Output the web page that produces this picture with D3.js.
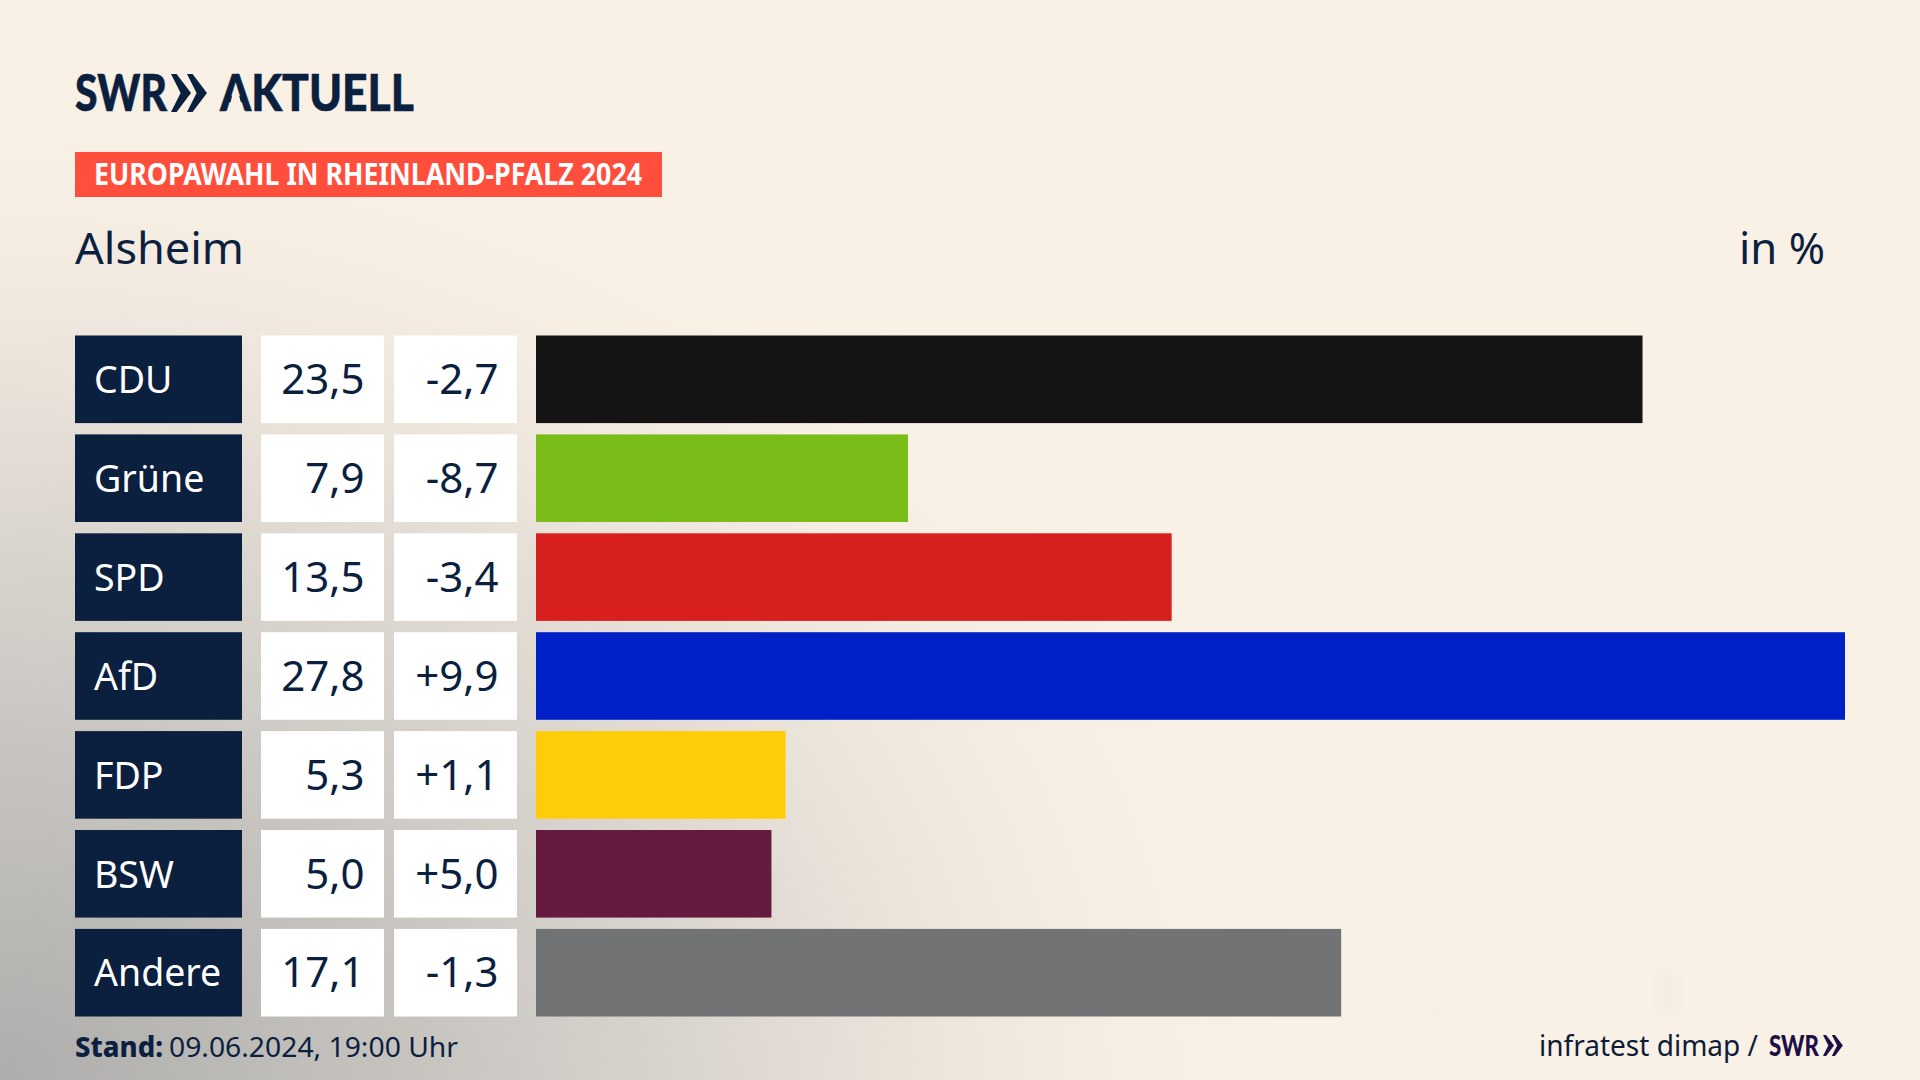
<!DOCTYPE html>
<html>
<head>
<meta charset="utf-8">
<script src="https://cdn.jsdelivr.net/npm/d3@7"></script>
<style>
  html, body { margin: 0; padding: 0; background: #faf1e6; }
  svg { display: block; }
  text { font-family: "Noto Sans", Lato, sans-serif; }
  .logo { font-family: Lato, "Noto Sans", sans-serif; }
</style>
</head>
<body>
<svg id="chart" width="1920" height="1080"></svg>
<script>
const parties = ['CDU', 'Grüne', 'SPD', 'AfD', 'FDP', 'BSW', 'Andere'];
const shares = [23.5, 7.9, 13.5, 27.8, 5.3, 5.0, 17.1];
const changes = [-2.7, -8.7, -3.4, 9.9, 1.1, 5.0, -1.3];
const partyColors = ['#141414', '#7abd19', '#d7201e', '#0021c7', '#ffcd07', '#661a3f', '#727375'];

const navy = '#0b1f3f';
const svg = d3.select('#chart');
const defs = svg.append('defs');

// Background: warm paper with a grey glow from the bottom left corner
const glow = defs.append('radialGradient')
  .attr('id', 'glow')
  .attr('gradientUnits', 'userSpaceOnUse')
  .attr('cx', 0).attr('cy', 0).attr('r', 1)
  .attr('gradientTransform', 'translate(0,1080) scale(1350,1050)');
[[0, '#aeadab', 1], [0.3, '#c6c3bf', 1], [0.6, '#e2dcd4', 1], [1, '#faf1e6', 0]].forEach(s => {
  glow.append('stop').attr('offset', s[0]).attr('stop-color', s[1]).attr('stop-opacity', s[2]);
});
defs.append('filter').attr('id', 'soft').append('feGaussianBlur').attr('stdDeviation', 8);
svg.append('rect').attr('width', 1920).attr('height', 1080).attr('fill', '#faf1e6');
svg.append('rect').attr('width', 1920).attr('height', 1080).attr('fill', 'url(#glow)');
// faint smudges near the bottom right
svg.append('ellipse').attr('cx', 1668).attr('cy', 993).attr('rx', 12).attr('ry', 22)
  .attr('fill', '#f4ebe1').attr('filter', 'url(#soft)');
svg.append('ellipse').attr('cx', 1432).attr('cy', 1015).attr('rx', 10).attr('ry', 10)
  .attr('fill', '#f6ede3').attr('filter', 'url(#soft)');

const fmt = v => v.toFixed(1).replace('.', ',');
const fmtChange = v => (v > 0 ? '+' : '') + fmt(v);

const x = d3.scaleLinear().domain([0, 27.8]).range([536, 1845]);
const y = d3.scaleBand().domain(parties).range([335.5, 1016.5]).paddingInner(0.1143);

// Chevrons of the SWR mark
function chevrons(g, px, py, h, color) {
  const w = h * 0.526;
  const d = `M0 0L${w * 0.28} 0L${w} ${h / 2}L${w * 0.28} ${h}L0 ${h}L${w * 0.48} ${h / 2}Z`;
  g.append('path').attr('d', d).attr('fill', color).attr('transform', `translate(${px},${py})`);
  g.append('path').attr('d', d).attr('fill', color).attr('transform', `translate(${px + w * 0.8},${py})`);
}

// Text squeezed to the width it has in the picture
function label(txt, px, py, size, width, opts = {}) {
  const t = svg.append('text')
    .attr('x', px).attr('y', py)
    .attr('font-size', size)
    .attr('font-weight', opts.weight || 400)
    .attr('fill', opts.fill || navy)
    .attr('text-anchor', opts.anchor || 'start')
    .text(txt);
  if (width) t.attr('textLength', width).attr('lengthAdjust', 'spacingAndGlyphs');
  return t;
}

// Header
label('SWR', 75, 111, 51, 92, { weight: 900 }).attr('class', 'logo').attr('stroke', navy).attr('stroke-width', 0.6);
chevrons(svg, 171, 74, 38, navy);
defs.append('clipPath').attr('id', 'noBar').append('path')
  .attr('clip-rule', 'evenodd')
  .attr('d', 'M210 60H430V125H210ZM233 92L238 92L244 113L228 113Z');
label('AKTUELL', 220, 111, 51, 194, { weight: 900 }).attr('class', 'logo')
  .attr('stroke', navy).attr('stroke-width', 0.6).attr('clip-path', 'url(#noBar)');

svg.append('rect').attr('x', 75).attr('y', 152).attr('width', 587).attr('height', 45).attr('fill', '#ff4f3c');
label('EUROPAWAHL IN RHEINLAND-PFALZ 2024', 94, 185, 29.5, 548, { weight: 700, fill: '#fff' });

label('Alsheim', 75, 264, 44, 169);
label('in %', 1739, 264, 44, 86);

// Rows
const rows = svg.append('g').selectAll('g').data(parties).enter().append('g')
  .attr('transform', d => `translate(0,${y(d)})`);
const h = y.bandwidth();

rows.append('rect').attr('x', 75).attr('width', 167).attr('height', h).attr('fill', navy);
rows.append('rect').attr('x', 261).attr('width', 123).attr('height', h).attr('fill', '#fff');
rows.append('rect').attr('x', 394).attr('width', 123).attr('height', h).attr('fill', '#fff');
rows.append('rect')
  .attr('x', x(0))
  .attr('width', (d, i) => x(shares[i]) - x(0))
  .attr('height', h)
  .attr('fill', (d, i) => partyColors[i]);

rows.append('text').attr('x', 94).attr('y', 57.5).attr('font-size', 37.5).attr('fill', '#fff').text(d => d);
rows.append('text').attr('x', 364.5).attr('y', 58.5).attr('font-size', 42).attr('fill', navy)
  .attr('text-anchor', 'end').text((d, i) => fmt(shares[i]));
rows.append('text').attr('x', 498.5).attr('y', 58.5).attr('font-size', 42).attr('fill', navy)
  .attr('text-anchor', 'end').text((d, i) => fmtChange(changes[i]));

// Footer
label('Stand:', 75, 1057, 28, 88, { weight: 800 });
label('09.06.2024, 19:00 Uhr', 169, 1057, 28, 289);
label('infratest dimap /', 1539, 1055.5, 29, 219, { fill: '#0e1c38' });
label('SWR', 1769, 1055.5, 29, 50, { weight: 900, fill: '#1f0f45' }).attr('class', 'logo');
chevrons(svg, 1823, 1035, 21, '#1f0f45');
</script>
</body>
</html>
